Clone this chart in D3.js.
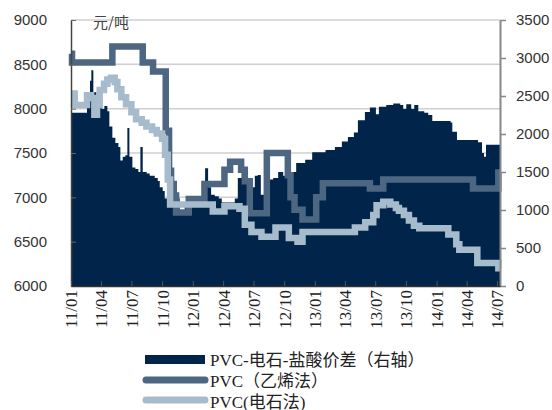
<!DOCTYPE html>
<html>
<head>
<meta charset="utf-8">
<script src="https://cdn.jsdelivr.net/npm/d3@7"></script>
<style>
  body { margin: 0; background: #fff; }
  svg { display: block; }
</style>
</head>
<body>
<div id="chart"></div>
<script>
// PVC-电石-盐酸价差 (右轴), weekly-ish readings
var spreadDates = ["2011-01-01","2011-01-04","2011-02-12","2011-02-18","2011-02-27","2011-03-03","2011-03-09","2011-03-18","2011-03-27",
    "2011-04-03","2011-04-11","2011-04-20","2011-04-26","2011-05-05","2011-05-14","2011-05-23","2011-05-29","2011-06-05","2011-06-13",
    "2011-06-19","2011-06-25","2011-07-04","2011-07-13","2011-07-22","2011-07-28","2011-08-04","2011-08-16","2011-08-25","2011-09-09",
    "2011-09-18","2011-09-24","2011-10-03","2011-10-09","2011-10-18","2011-10-27","2011-11-09","2011-11-23","2011-12-08","2011-12-23",
    "2012-01-11","2012-01-23","2012-02-01","2012-02-07","2012-02-16","2012-02-25","2012-03-07","2012-03-19","2012-03-28","2012-04-15",
    "2012-05-06","2012-05-15","2012-05-27","2012-06-09","2012-06-17","2012-06-26","2012-07-05","2012-07-14","2012-07-23","2012-08-02",
    "2012-08-14","2012-08-29","2012-09-13","2012-09-28","2012-10-10","2012-10-25","2012-11-06","2012-12-03","2012-12-24","2013-02-02",
    "2013-03-02","2013-03-23","2013-04-10","2013-04-28","2013-05-10","2013-05-31","2013-06-15","2013-07-03","2013-07-12","2013-08-03",
    "2013-08-24","2013-09-14","2013-09-23","2013-10-02","2013-10-17","2013-10-26","2013-11-07","2013-11-25","2013-12-07","2013-12-19",
    "2014-02-12","2014-02-17","2014-03-03","2014-05-05","2014-05-17","2014-05-23","2014-05-29","2014-07-10"];
var spreadValues = [2450,2280,2280,2500,2700,2840,2550,2420,2600,
    2330,2370,2300,2100,1950,1880,1830,1650,1700,1720,
    2080,1700,1560,1540,1500,1830,1500,1480,1450,1420,
    1380,1300,1250,1150,1120,1100,1150,1000,1080,1100,
    1110,1100,1300,1550,1300,1200,1180,1150,1100,1100,
    1150,1420,1500,1350,1100,1300,1450,1460,1200,1380,
    1400,1420,1500,1450,1500,1500,1620,1660,1760,1790,
    1830,1900,1960,2020,2180,2290,2350,2260,2360,2380,
    2400,2380,2330,2390,2330,2380,2300,2280,2250,2170,
    2150,2030,1920,1890,1750,1700,1860,1860];

// PVC（乙烯法）
var ethDates = ["2011-01-01","2011-01-04","2011-05-05","2011-08-04","2011-09-04","2011-10-12","2011-10-22","2011-10-28","2011-11-05",
    "2011-11-12","2011-12-20","2012-02-05","2012-04-05","2012-04-22","2012-05-25","2012-06-05","2012-06-20","2012-08-10","2012-10-12",
    "2012-10-20","2012-11-01","2012-11-25","2013-01-05","2013-01-25","2013-06-15","2013-07-25","2014-04-20","2014-07-05","2014-07-10"];
var ethValues = [8620,8520,8700,8520,8420,7750,7300,7150,7020,
    6830,6980,7150,7310,7400,7310,7180,6820,7500,7250,
    7000,6860,6750,7000,7160,7100,7200,7100,7280,7280];

// PVC(电石法)
var carbDates = ["2011-01-01","2011-01-12","2011-02-18","2011-03-02","2011-03-12","2011-03-20","2011-03-28","2011-04-10","2011-04-20",
    "2011-05-01","2011-05-12","2011-05-20","2011-06-01","2011-06-15","2011-07-01","2011-07-15","2011-08-01","2011-08-15","2011-09-01",
    "2011-09-15","2011-10-01","2011-10-10","2011-10-18","2011-10-25","2012-03-01","2012-04-05","2012-05-20","2012-06-05","2012-06-25",
    "2012-07-25","2012-09-05","2012-10-15","2012-11-10","2012-11-25","2013-05-01","2013-06-01","2013-06-25","2013-07-05","2013-07-25",
    "2013-08-15","2013-09-01","2013-09-10","2013-09-25","2013-10-10","2013-10-25","2013-11-10","2014-02-05","2014-03-01","2014-03-10",
    "2014-05-03","2014-07-05","2014-07-10"];
var carbValues = [8170,8040,8150,8120,7930,8040,8210,8280,8330,
    8350,8300,8220,8130,8050,7960,7880,7840,7800,7760,
    7720,7660,7480,7200,6920,6840,6900,6870,6690,6610,
    6555,6660,6540,6500,6610,6660,6720,6800,6910,6950,
    6920,6880,6850,6800,6740,6680,6650,6580,6470,6410,
    6260,6200,6200];

var leftTicks = [6000, 6500, 7000, 7500, 8000, 8500, 9000];
var rightTicks = [0, 500, 1000, 1500, 2000, 2500, 3000, 3500];
var legendLabels = ["PVC-电石-盐酸价差（右轴）", "PVC（乙烯法）", "PVC(电石法)"];

function init() {
    var w = 552, h = 410;
    var left = 71, right = 500, top = 20, bottom = 286;
    var parse = d3.timeParse("%Y-%m-%d");

    var svg = d3.select("#chart").append("svg")
        .attr("width", w)
        .attr("height", h);

    var x = d3.scaleTime()
        .domain([parse("2011-01-01"), parse("2014-07-10")])
        .range([left, right]);
    var yL = d3.scaleLinear().domain([6000, 9000]).range([bottom, top]);
    var yR = d3.scaleLinear().domain([0, 3500]).range([bottom, top]);

    //grid lines behind everything
    svg.append("g").selectAll("line")
        .data(leftTicks.slice(1))
        .enter().append("line")
        .attr("x1", left).attr("x2", right)
        .attr("y1", function (d) { return yL(d); })
        .attr("y2", function (d) { return yL(d); })
        .attr("stroke", "#cfcfcf")
        .attr("stroke-width", 1.5);

    var spread = spreadDates.map(function (d, i) { return { date: parse(d), v: spreadValues[i] }; });
    var eth = ethDates.map(function (d, i) { return { date: parse(d), v: ethValues[i] }; });
    var carb = carbDates.map(function (d, i) { return { date: parse(d), v: carbValues[i] }; });

    var area = d3.area()
        .curve(d3.curveStepAfter)
        .x(function (d) { return x(d.date); })
        .y0(bottom)
        .y1(function (d) { return yR(d.v); });

    svg.append("path")
        .datum(spread)
        .attr("d", area)
        .attr("fill", "#00244a");

    var line = d3.line()
        .curve(d3.curveStepAfter)
        .x(function (d) { return x(d.date); })
        .y(function (d) { return yL(d.v); });

    svg.append("path")
        .datum(eth)
        .attr("d", line)
        .attr("fill", "none")
        .attr("stroke", "#4d6682")
        .attr("stroke-width", 6.5);

    svg.append("path")
        .datum(carb)
        .attr("d", line)
        .attr("fill", "none")
        .attr("stroke", "#a6bbcb")
        .attr("stroke-width", 6.5);

    var numFmt = d3.format("d");

    //left axis
    var gL = svg.append("g")
        .attr("transform", "translate(" + left + ",0)")
        .call(d3.axisLeft(yL).tickValues(leftTicks).tickFormat(numFmt)
            .tickSizeInner(-5).tickSizeOuter(0).tickPadding(24));
    gL.select(".domain").attr("stroke", "#444").attr("stroke-width", 1.5);
    gL.selectAll(".tick line").attr("stroke", "#666");
    gL.selectAll("text")
        .attr("font-family", "Liberation Sans, Arial, sans-serif")
        .attr("font-size", 15)
        .attr("fill", "#333");

    //right axis
    var gR = svg.append("g")
        .attr("transform", "translate(" + right + ",0)")
        .call(d3.axisRight(yR).tickValues(rightTicks).tickFormat(numFmt)
            .tickSizeInner(6).tickSizeOuter(0).tickPadding(10));
    gR.select(".domain").attr("stroke", "#888").attr("stroke-width", 2);
    gR.selectAll(".tick line").attr("stroke", "#888").attr("stroke-width", 1.5);
    gR.selectAll("text")
        .attr("font-family", "Liberation Sans, Arial, sans-serif")
        .attr("font-size", 15)
        .attr("fill", "#333");

    //bottom axis
    var gB = svg.append("g")
        .attr("transform", "translate(0," + bottom + ")")
        .call(d3.axisBottom(x)
            .ticks(d3.timeMonth.every(3))
            .tickFormat(d3.timeFormat("%y/%m"))
            .tickSizeInner(-5).tickSizeOuter(0));
    gB.select(".domain").attr("stroke", "#333").attr("stroke-width", 1.5);
    gB.selectAll(".tick line").attr("stroke", "#555");
    gB.selectAll("text")
        .attr("font-family", "Liberation Serif, Times New Roman, serif")
        .attr("font-size", 17)
        .attr("fill", "#222")
        .attr("text-anchor", "end")
        .attr("transform", "rotate(-90)")
        .attr("x", -4)
        .attr("y", 0)
        .attr("dy", "0.35em");

    //unit label
    svg.append("text")
        .attr("x", 93)
        .attr("y", 28)
        .attr("font-family", "Noto Sans CJK SC, sans-serif")
        .attr("font-size", 15)
        .attr("fill", "#444")
        .text("元/吨");

    //legend
    var lg = svg.append("g");
    lg.append("rect")
        .attr("x", 145).attr("y", 355)
        .attr("width", 60).attr("height", 9)
        .attr("fill", "#00244a");
    lg.append("line")
        .attr("x1", 146).attr("x2", 205)
        .attr("y1", 380).attr("y2", 380)
        .attr("stroke", "#4d6682").attr("stroke-width", 7)
        .attr("stroke-linecap", "round");
    lg.append("line")
        .attr("x1", 146).attr("x2", 205)
        .attr("y1", 400).attr("y2", 400)
        .attr("stroke", "#a6bbcb").attr("stroke-width", 7)
        .attr("stroke-linecap", "round");

    lg.selectAll("text")
        .data(legendLabels)
        .enter().append("text")
        .attr("x", 210)
        .attr("y", function (d, i) { return 366 + i * 21; })
        .attr("font-family", "Liberation Serif, Noto Sans CJK SC, serif")
        .attr("font-size", 17)
        .attr("fill", "#222")
        .text(function (d) { return d; });
}
window.onload = init;
</script>
</body>
</html>
